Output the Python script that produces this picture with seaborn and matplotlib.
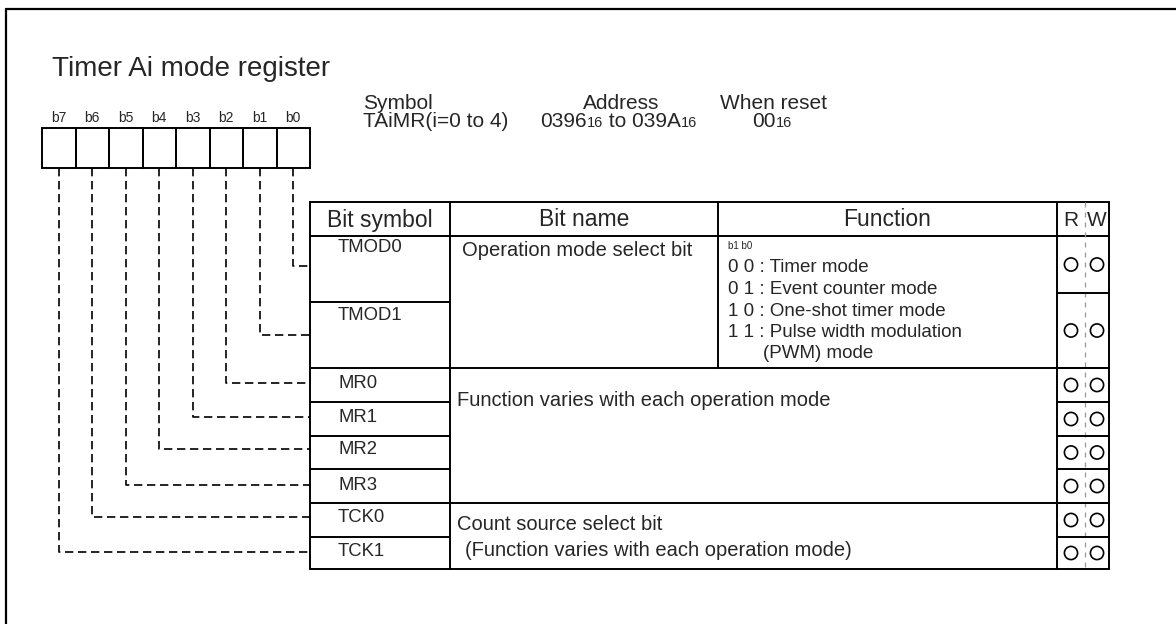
import matplotlib
matplotlib.use("Agg")
import matplotlib.pyplot as plt
import seaborn as sns
import pandas as pd

# ---- content ----
TITLE = "Timer Ai mode register"
BITS = ["b7", "b6", "b5", "b4", "b3", "b2", "b1", "b0"]
BIT_SYMBOLS = ["TMOD0", "TMOD1", "MR0", "MR1", "MR2", "MR3", "TCK0", "TCK1"]   # b0 .. b7
HEADERS = ["Bit symbol", "Bit name", "Function", "R", "W"]
MODE_LINES = ["0 0 : Timer mode", "0 1 : Event counter mode",
              "1 0 : One-shot timer mode", "1 1 : Pulse width modulation",
              "(PWM) mode"]
READ_OK = [1, 1, 1, 1, 1, 1, 1, 1]
WRITE_OK = [1, 1, 1, 1, 1, 1, 1, 1]

# ---- layout (pixel space, y down) ----
W, H = 1176, 624
BOX_X0, BOX_X1, BOX_Y0, BOX_Y1 = 42, 310, 128, 168
COLS = [310, 450, 718, 1057, 1085, 1109]
TOP, HEAD = 202, 236
SYM_EDGES = [236, 302, 368, 402, 436, 469, 503, 537, 569]
RW_EDGES = [236, 293, 368, 402, 436, 469, 503, 537, 569]
LINK_Y = [266, 335, 383, 417, 449, 485, 517, 552]        # b0 .. b7
SYM_Y = [248, 316, 383, 417, 450, 485, 518, 552]

FONT = ["Liberation Sans", "DejaVu Sans"]
sns.set_theme(style="white")
plt.rcParams["font.family"] = FONT

fig = plt.figure(figsize=(W / 100, H / 100), dpi=100)
ax = fig.add_axes([0, 0, 1, 1])
ax.set_xlim(0, W)
ax.set_ylim(H, 0)
ax.axis("off")

K = "black"
LW = 1.4

# outer frame (left and top only)
ax.plot([6, 6], [9, H], color=K, lw=1.6)
ax.plot([6, W], [9, 9], color=K, lw=1.6)

ax.text(52, 76, TITLE, fontsize=20, va="baseline", ha="left")

# register boxes
cw = (BOX_X1 - BOX_X0) / len(BITS)
for i, b in enumerate(BITS):
    x0 = BOX_X0 + i * cw
    ax.add_patch(plt.Rectangle((x0, BOX_Y0), cw, BOX_Y1 - BOX_Y0,
                               fill=False, ec=K, lw=LW))
    ax.text(x0 + cw / 2, 118, b, fontsize=10, ha="center", va="center")

# dashed connectors from each bit to its row
for i in range(8):
    xc = BOX_X0 + (7 - i) * cw + cw / 2
    yy = LINK_Y[i]
    ax.plot([xc, xc, COLS[0]], [BOX_Y1, yy, yy], color=K, lw=1.2,
            linestyle=(0, (5, 2.8)))

# Symbol / Address / When reset block
r = fig.canvas.get_renderer()
inv = ax.transData.inverted()


def run_text(x, y, parts):
    for s, fs in parts:
        t = ax.text(x, y, s, fontsize=fs, va="baseline", ha="left")
        bb = t.get_window_extent(r)
        x = inv.transform((bb.x1, 0))[0]


run_text(363, 109, [("Symbol", 15)])
run_text(583, 109, [("Address", 15)])
run_text(720, 109, [("When reset", 15)])
run_text(363, 127, [("TAiMR(i=0 to 4)", 15)])
run_text(540, 127, [("0396", 15), ("16", 10.5), (" to 039A", 15), ("16", 10.5)])
run_text(752, 127, [("00", 15), ("16", 10.5)])

# table grid
x_l, x_r = COLS[0], COLS[-1]
bot = SYM_EDGES[-1]
ax.add_patch(plt.Rectangle((x_l, TOP), x_r - x_l, bot - TOP, fill=False, ec=K, lw=LW))
ax.plot([x_l, x_r], [HEAD, HEAD], color=K, lw=LW)
ax.plot([COLS[1], COLS[1]], [TOP, bot], color=K, lw=LW)
ax.plot([COLS[2], COLS[2]], [TOP, SYM_EDGES[2]], color=K, lw=LW)
ax.plot([COLS[3], COLS[3]], [TOP, bot], color=K, lw=LW)
ax.plot([COLS[4], COLS[4]], [TOP, bot], color="#9a9a9a", lw=0.9,
        linestyle=(0, (4, 4)))
for y in SYM_EDGES[1:-1]:
    if y in (368, 503):
        ax.plot([x_l, x_r], [y, y], color=K, lw=LW)
    else:
        ax.plot([COLS[0], COLS[1]], [y, y], color=K, lw=LW)
for y in RW_EDGES[1:-1]:
    ax.plot([COLS[3], COLS[5]], [y, y], color=K, lw=LW)

# headers
head_x = [(COLS[0] + COLS[1]) / 2, (COLS[1] + COLS[2]) / 2,
          (COLS[2] + COLS[3]) / 2, (COLS[3] + COLS[4]) / 2, (COLS[4] + COLS[5]) / 2]
for hx, h in zip(head_x, HEADERS):
    ax.text(hx, (TOP + HEAD) / 2 + 1, h, fontsize=16.5 if len(h) > 1 else 15,
            ha="center", va="center")

# bit symbols
for s, y in zip(BIT_SYMBOLS, SYM_Y):
    ax.text(338, y, s, fontsize=13.3, ha="left", va="center")

# bit names / functions
ax.text(462, 250, "Operation mode select bit", fontsize=14.5, ha="left", va="center")
ax.text(728, 246, "b1 b0", fontsize=7, ha="left", va="center")
for k, line in enumerate(MODE_LINES):
    ax.text(763 if k == 4 else 728, 268 + k * 21.5, line, fontsize=13.5,
            ha="left", va="center")
ax.text(457, 400, "Function varies with each operation mode", fontsize=14.5,
        ha="left", va="center")
ax.text(457, 525, "Count source select bit", fontsize=14.5, ha="left", va="center")
ax.text(465, 550, "(Function varies with each operation mode)", fontsize=14.5,
        ha="left", va="center")

# R / W circles
centers = [(a + b) / 2 for a, b in zip(RW_EDGES[:-1], RW_EDGES[1:])]
rw = pd.DataFrame({
    "x": [head_x[3]] * 8 + [head_x[4]] * 8,
    "y": centers + centers,
    "ok": READ_OK + WRITE_OK,
})
rw = rw[rw["ok"] == 1]
sns.scatterplot(data=rw, x="x", y="y", ax=ax, marker="o", s=90,
                facecolor="none", edgecolor=K, linewidth=1.2, legend=False)
ax.set_xlim(0, W)
ax.set_ylim(H, 0)
ax.axis("off")

fig.savefig("out.png", dpi=100, facecolor="white")
